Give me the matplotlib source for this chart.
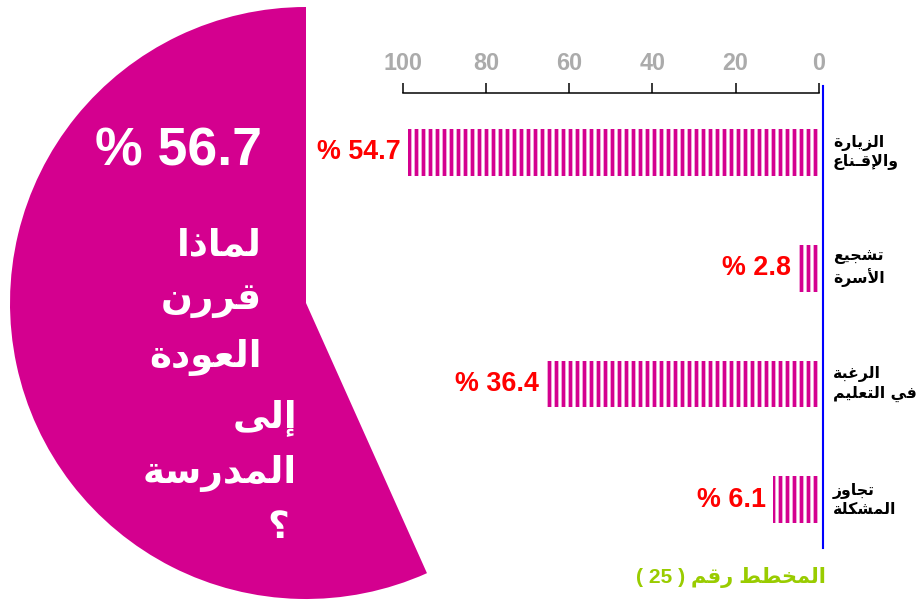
import matplotlib
matplotlib.use("Agg")
import matplotlib.pyplot as plt
from matplotlib.transforms import blended_transform_factory

# ---------------- data ----------------
categories = ["الزيارة\nوالإقـناع", "تشجيع\nالأسرة", "الرغبة\nفي التعليم", "تجاوز\nالمشكلة"]
values = [54.7, 2.8, 36.4, 6.1]
pie_share = [56.7, 43.3]
pie_label = "% 56.7"
title_lines = ["لماذا", "قررن", "العودة", "إلى", "المدرسة", "؟"]
tick_values = [0, 20, 40, 60, 80, 100]
footnote_ar = "المخطط رقم"
footnote_num = "( 25 )"

# ---------------- minimal Arabic shaping (presentation forms) ----------------
_blocks = [("ء", 0xFE80, 1), ("آ", 0xFE81, 2), ("أ", 0xFE83, 2), ("ؤ", 0xFE85, 2),
           ("إ", 0xFE87, 2), ("ئ", 0xFE89, 4), ("ا", 0xFE8D, 2), ("ب", 0xFE8F, 4),
           ("ة", 0xFE93, 2), ("ت", 0xFE95, 4), ("ث", 0xFE99, 4), ("ج", 0xFE9D, 4),
           ("ح", 0xFEA1, 4), ("خ", 0xFEA5, 4), ("د", 0xFEA9, 2), ("ذ", 0xFEAB, 2),
           ("ر", 0xFEAD, 2), ("ز", 0xFEAF, 2), ("س", 0xFEB1, 4), ("ش", 0xFEB5, 4),
           ("ص", 0xFEB9, 4), ("ض", 0xFEBD, 4), ("ط", 0xFEC1, 4), ("ظ", 0xFEC5, 4),
           ("ع", 0xFEC9, 4), ("غ", 0xFECD, 4), ("ف", 0xFED1, 4), ("ق", 0xFED5, 4),
           ("ك", 0xFED9, 4), ("ل", 0xFEDD, 4), ("م", 0xFEE1, 4), ("ن", 0xFEE5, 4),
           ("ه", 0xFEE9, 4), ("و", 0xFEED, 2), ("ى", 0xFEEF, 2), ("ي", 0xFEF1, 4)]
FORMS = {c: tuple(chr(s + k) for k in range(n)) for c, s, n in _blocks}
FORMS["ـ"] = ("ـ",) * 4
LAM_ALEF = {"آ": 0xFEF5, "أ": 0xFEF7, "إ": 0xFEF9, "ا": 0xFEFB}


def _forms(u):
    if u[0] == "LA":
        b = LAM_ALEF[u[1]]
        return (chr(b), chr(b + 1))
    return FORMS.get(u[1])


def shape_line(text):
    units, i = [], 0
    while i < len(text):
        c = text[i]
        if c == "ل" and i + 1 < len(text) and text[i + 1] in LAM_ALEF:
            units.append(("LA", text[i + 1]))
            i += 2
        else:
            units.append(("C", c))
            i += 1
    out = []
    for k, u in enumerate(units):
        f = _forms(u)
        if f is None:
            out.append(u[1])
            continue
        prev = _forms(units[k - 1]) if k > 0 else None
        nxt = _forms(units[k + 1]) if k + 1 < len(units) else None
        jp = prev is not None and len(prev) == 4
        jn = len(f) == 4 and nxt is not None and len(nxt) > 1
        if jp and jn:
            out.append(f[3])
        elif jp:
            out.append(f[1])
        elif jn:
            out.append(f[2])
        else:
            out.append(f[0])
    return "".join(reversed(out))


def shape(text):
    return "\n".join(shape_line(l) for l in text.split("\n"))


# ---------------- style ----------------
MAGENTA = "#D4008F"
DPI = 84
W, H = 918, 601
plt.rcParams["hatch.linewidth"] = 3.2
plt.rcParams["hatch.color"] = MAGENTA
ARFONT = ["DejaVu Sans"]
NUMFONT = ["Liberation Sans", "DejaVu Sans"]

fig = plt.figure(figsize=(W / DPI, H / DPI), dpi=DPI)
fig.patch.set_facecolor("white")


def fx(px):
    return px / W


def fy(py):
    return 1 - py / H


# ---------------- pie (left) ----------------
cx, cy, r = 306, 303, 296
ax_pie = fig.add_axes([fx(cx - r), fy(cy + r), 2 * r / W, 2 * r / H])
ax_pie.pie(pie_share, colors=[MAGENTA, "none"], startangle=90, counterclock=True,
           radius=1, wedgeprops=dict(linewidth=0))
ax_pie.set_xlim(-1, 1)
ax_pie.set_ylim(-1, 1)
ax_pie.axis("off")

fig.text(fx(262), fy(152), pie_label, ha="right", va="center", color="white",
         fontsize=46, fontweight="bold", family=NUMFONT)

title_pos = [(262, 245), (262, 300), (262, 358), (297, 418), (297, 473), (289, 528)]
for line, (px, py) in zip(title_lines, title_pos):
    fig.text(fx(px), fy(py), shape(line), ha="right", va="center", color="white",
             fontsize=32, fontweight="bold", family=ARFONT)

# ---------------- bars (right) ----------------
left_px, right_px, top_px, bot_px = 403, 823, 93, 548
ax = fig.add_axes([fx(left_px), fy(bot_px), (right_px - left_px) / W, (bot_px - top_px) / H])
ax.patch.set_visible(False)
px_per_unit = 7.51
zero_px = 818.8
ax.set_xlim((zero_px - left_px) / px_per_unit, -(right_px - zero_px) / px_per_unit)
ypos = list(range(len(values)))
ax.barh(ypos, values, height=0.405, color="white", edgecolor=MAGENTA,
        hatch="||", linewidth=0)
ax.set_ylim(3.414, -0.509)
ax.set_xticks([])
ax.set_yticks([])
for s in ax.spines.values():
    s.set_visible(False)

for y, v in zip(ypos, values):
    ax.annotate(f"% {v}", xy=(v, y), xytext=(-6, 0), textcoords="offset points",
                ha="right", va="center", color="#FF0000", fontsize=23,
                fontweight="bold", family=NUMFONT)

trans = blended_transform_factory(ax.transAxes, ax.transData)
for y, lab in zip(ypos, categories):
    ax.text((833 - left_px) / (right_px - left_px), y, shape(lab), transform=trans,
            ha="left", va="center", multialignment="left", fontsize=13.5,
            fontweight="bold", family=ARFONT, color="black", linespacing=1.25)

# blue baseline at zero
ax.plot([1, 1], [0, 1 + 7 / (bot_px - top_px)], transform=ax.transAxes,
        color="#0000FF", lw=1.8, clip_on=False)

# top scale axis
ax_top = ax.twiny()
ax_top.set_xlim(100, -(right_px - zero_px) / ((zero_px - left_px) / 100))
ax_top.set_xticks(tick_values)
ax_top.set_xticklabels([str(t) for t in tick_values])
ax_top.tick_params(axis="x", direction="out", length=8.5, width=1.3, color="black",
                   pad=7, labelsize=20, labelcolor="#ABABAB")
for lab in ax_top.get_xticklabels():
    lab.set_fontweight("bold")
    lab.set_family(NUMFONT)
ax_top.set_yticks([])
for name, s in ax_top.spines.items():
    s.set_visible(name == "top")
ax_top.spines["top"].set_bounds(0, 100)
ax_top.spines["top"].set_linewidth(1.3)
ax_top.patch.set_visible(False)

# footnote
fig.text(fx(826), fy(577), footnote_num + " " + shape(footnote_ar), ha="right",
         va="center", color="#99CC00", fontsize=18, fontweight="bold", family=NUMFONT)

fig.savefig("out.png", dpi=DPI, facecolor="white")
